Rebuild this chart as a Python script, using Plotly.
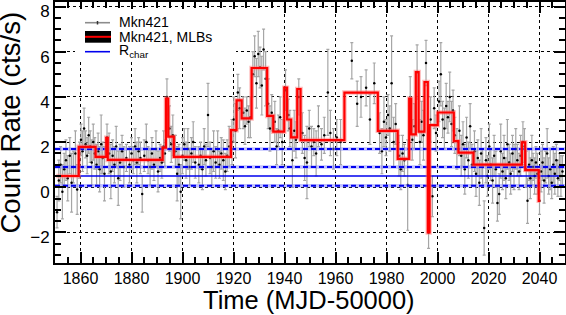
import plotly.graph_objects as go

# ---------------- data ----------------
time = [1850.8, 1851.5, 1852.2, 1852.9, 1853.6, 1854.3, 1855.0, 1855.8, 1856.5, 1857.2, 1858.0, 1858.7,
        1859.6, 1860.2, 1860.8, 1861.4, 1862.0, 1862.6, 1863.2, 1863.8, 1864.4, 1865.0, 1865.6,
        1866.3, 1866.9, 1867.5, 1868.1, 1868.7, 1869.4, 1870.4,
        1871.2, 1871.9, 1872.6, 1873.3, 1874.0, 1874.8, 1875.5, 1876.3, 1877.0, 1878.0, 1879.2, 1880.0,
        1880.7, 1881.4, 1882.1, 1882.8, 1883.5, 1884.2, 1885.0, 1885.8, 1886.5, 1887.3, 1888.0, 1888.8,
        1889.6, 1890.4, 1891.2, 1891.9, 1892.6, 1893.1, 1893.9, 1894.9, 1895.6, 1896.2,
        1897.2, 1897.9, 1898.6, 1899.3, 1900.0, 1900.7, 1901.4, 1902.1, 1902.8, 1903.5, 1904.2, 1905.0,
        1906.4, 1907.1, 1907.8, 1908.5, 1909.2, 1910.0, 1910.8, 1911.5, 1912.2, 1913.0, 1913.8, 1914.5,
        1915.2, 1916.0, 1916.8, 1917.5, 1918.3, 1919.4, 1920.1, 1920.8, 1921.7, 1922.4,
        1923.8, 1924.5, 1925.2, 1925.9, 1926.6, 1927.6, 1928.3, 1929.0, 1929.7, 1930.4, 1931.1, 1931.8,
        1932.6, 1933.6, 1934.3, 1935.0, 1936.2, 1936.9, 1937.6, 1938.3, 1939.1, 1940.4, 1941.5, 1942.1,
        1943.1, 1943.8, 1944.5, 1945.6, 1947.0, 1947.9, 1948.8, 1949.7, 1950.6, 1951.5, 1952.4, 1953.3,
        1954.5, 1955.6, 1957.0, 1958.0, 1959.2, 1960.5, 1962.0, 1966.4, 1968.5, 1970.0, 1972.0, 1973.5,
        1975.2, 1977.3, 1978.2, 1979.0, 1979.8, 1980.6, 1981.3, 1982.0, 1982.8, 1983.6, 1984.9, 1985.6,
        1986.3, 1987.0, 1988.3, 1989.3, 1990.1, 1990.9, 1992.0, 1993.1, 1993.8, 1994.5, 1995.5, 1996.5,
        1997.3, 1998.0, 1998.7, 1999.4, 2000.6, 2001.3, 2002.0, 2002.7, 2003.4, 2004.1, 2004.8, 2005.5,
        2006.1, 2006.8, 2007.6, 2008.6, 2009.3, 2010.0, 2010.7, 2011.4, 2012.1, 2012.8, 2013.5,
        2014.5, 2015.1, 2015.8, 2016.4, 2017.1, 2017.7, 2018.3, 2019.0, 2019.6, 2020.3, 2020.9, 2021.6,
        2022.2, 2022.9, 2023.5, 2024.2, 2024.8, 2025.5, 2026.1, 2026.8, 2027.4, 2028.1, 2028.7, 2029.4,
        2030.0, 2030.7, 2031.3, 2032.0, 2032.6, 2033.5, 2034.1, 2034.8, 2035.3, 2035.9, 2036.4, 2037.0,
        2037.5, 2038.1, 2038.6, 2039.2, 2040.0, 2040.6, 2041.2, 2041.8, 2042.4, 2043.0, 2043.6, 2044.2,
        2044.8, 2045.4, 2046.0, 2046.6, 2047.2, 2047.8, 2048.4, 2049.0]

rate = [-1.1, 0.3, 1.0, -0.2, 0.8, 1.2, 0.4, 1.4, 0.2, 0.9, 1.5, -0.1,
        1.2, 2.1, 1.6, 2.6, 1.9, 1.4, 2.3, 1.8, 1.1, 2.0, 1.5,
        1.0, 1.6, 0.8, 1.9, 1.3, 0.6, 2.2,
        1.5, 0.7, 1.4, 1.0, 1.8, 0.4, 1.1, 1.6, 0.9, 1.3, 1.0, 1.5,
        1.2, 1.8, 1.1, 1.6, 1.3, -0.3, 1.4, 2.0, 1.2, 0.9, 1.5, 1.0,
        1.7, 0.7, 1.3, 1.1, 1.8, 1.5, 4.0, 2.6, 1.9, 2.3,
        1.6, 0.6, 1.0, -0.2, 1.4, 1.9, 1.2, 1.7, 0.9, 1.5, 2.0, 1.1,
        1.0, 1.4, 0.8, 1.8, 1.2, 3.2, 1.3, 0.9, 1.6, 1.1, 1.7, 1.0,
        1.5, 1.2, 0.7, 1.4, 1.8, 2.0, 3.0, 2.5, 4.2, 3.5,
        3.3, 2.7, 3.4, 2.9, 3.1, 5.0, 5.8, 4.6, 5.9, 5.3, 4.5, 6.1,
        4.8, 3.7, 2.6, 3.3, 2.9, 1.8, 2.5, 3.1, 2.0, 4.3, 3.2, 2.6,
        1.2, 2.5, 2.1, 4.0, 2.4, 1.3, 1.1, 2.6, 1.8, 2.0, 1.5, 2.7,
        1.9, 2.3, 4.2, 2.4, 1.7, 2.2, 2.0, 5.6, 3.7, 4.0, 4.4, 3.0,
        4.6, 2.4, 1.6, 2.9, 2.2, 3.2, 2.6, 4.6, 2.0, 2.8, 1.4, 0.8,
        1.5, 1.2, 0.1, 3.9, 2.1, 2.7, 5.1, 2.0, 2.9, 2.3, 5.5, -2.0,
        3.0, -0.4, 3.5, 2.4, 3.8, 5.0, 3.0, 2.6, 3.6, 3.1, 4.0, 2.8,
        3.4, 2.3, 1.7, 2.5, 1.4, 1.9, 0.8, 2.2, 1.2, 2.7, 1.0,
        1.6, 0.6, 1.3, 0.2, 1.5, 0.9, -1.8, 1.2, 0.5, 1.8, 1.0, 0.3,
        1.4, 0.8, -0.7, -0.3, 1.6, 0.7, 1.3, 0.4, 1.9, 1.1, 0.6, 1.5,
        0.9, 1.7, 1.2, 0.7, 1.4, 2.0, 1.8, 0.8, -0.6, 1.0, 0.4, 1.2,
        0.9, 0.5, 1.1, 0.6, -0.6, 0.7, 1.1, 0.3, 0.9, 1.5, 0.5, 0.8,
        0.2, 1.0, 0.6, 1.2, 0.4, 0.9, 0.5, 0.7]

rate_err = [0.7, 0.9, 0.8, 1.2, 0.7, 0.9, 1.0, 0.8, 1.3, 0.7, 1.0, 1.1,
            0.8, 0.7, 0.9, 0.9, 0.6, 0.8, 0.8, 0.7, 1.0, 0.8, 0.7,
            0.9, 0.8, 1.0, 1.3, 0.7, 1.2, 0.6,
            0.9, 1.2, 0.7, 0.8, 0.9, 1.2, 0.8, 0.7, 0.9, 0.6, 0.8, 0.7,
            0.6, 0.8, 0.9, 0.6, 0.7, 0.8, 0.7, 0.8, 0.6, 0.8, 0.7, 0.7,
            0.8, 0.9, 0.6, 0.7, 0.7, 0.6, 0.8, 1.0, 0.8, 0.9,
            0.7, 1.2, 0.9, 1.2, 0.8, 0.7, 0.8, 0.9, 0.8, 0.7, 0.9, 0.7,
            0.8, 0.6, 0.9, 0.8, 0.7, 1.4, 0.7, 0.8, 0.9, 0.7, 0.8, 0.6,
            0.7, 0.9, 0.8, 0.7, 0.9, 1.0, 1.0, 1.2, 0.8, 0.9,
            0.7, 0.8, 0.6, 0.7, 0.9, 1.0, 0.9, 1.1, 1.0, 0.9, 1.3, 0.9,
            1.2, 1.1, 1.0, 0.8, 0.9, 0.8, 0.7, 0.9, 1.0, 0.9, 0.7, 0.8,
            1.2, 0.9, 0.8, 0.8, 0.9, 1.0, 1.6, 0.8, 0.9, 0.6, 1.0, 0.9,
            0.7, 0.8, 1.9, 1.0, 0.9, 0.8, 1.0, 0.8, 1.0, 0.9, 0.8, 1.1,
            0.9, 0.9, 1.0, 1.1, 0.8, 0.9, 1.0, 2.1, 1.1, 0.9, 0.9, 0.9,
            0.8, 0.7, 2.0, 1.0, 0.9, 1.0, 1.2, 1.0, 0.9, 1.1, 1.0, 0.7,
            1.0, 0.9, 0.9, 0.8, 0.9, 1.4, 0.8, 0.9, 1.0, 0.7, 1.1, 1.0,
            0.9, 0.8, 0.9, 1.1, 0.9, 1.0, 1.1, 0.9, 0.8, 1.0, 0.9,
            0.9, 1.0, 0.8, 1.0, 1.1, 0.8, 1.2, 1.0, 0.9, 1.0, 0.7, 1.0,
            0.9, 0.8, 0.8, 0.9, 1.2, 0.8, 1.0, 0.9, 1.1, 0.8, 0.9, 0.8,
            1.0, 0.9, 0.7, 0.8, 0.9, 0.9, 0.8, 0.8, 1.0, 0.7, 0.9, 1.1,
            0.6, 0.8, 0.7, 0.9, 0.6, 0.9, 0.8, 1.0, 0.7, 1.1, 0.8, 0.9,
            0.7, 0.8, 0.9, 0.7, 0.8, 0.6, 0.9, 0.7]

# Bayesian-block (MLB) edges and block rates
block_edges = [1850.5, 1859.3, 1865.9, 1870.1, 1870.7, 1892.2, 1893.5, 1894.4, 1896.6, 1919.0,
               1921.2, 1923.2, 1927.1, 1933.2, 1935.6, 1939.9, 1941.0, 1942.6, 1945.0, 1946.3,
               1963.5, 1976.6, 1984.4, 1988.9, 1989.7, 1991.5, 1992.6, 1994.9, 1996.2, 1996.9,
               2000.1, 2006.4, 2008.2, 2014.1, 2033.1, 2034.4, 2039.7, 2040.3]
block_rates = [0.50, 1.79, 1.35, 2.19, 1.21, 1.76, 3.93, 2.24, 1.35, 2.53,
               3.85, 3.05, 5.28, 3.16, 2.46, 4.41, 3.00, 2.21, 4.35, 2.09,
               4.19, 2.50, 1.26, 3.93, 2.34, 5.10, 2.46, 4.66, -2.00, 2.75,
               3.31, 2.04, 1.53, 1.00, 1.99, 0.76, -0.60]

# characteristic rate levels
r_char = 0.50
r_char_bands = [1.69, 0.90, 0.07]

x_range = [1850, 2050]
y_range = [-3.35, 8.2]

FONT = "Liberation Sans, Arial, Helvetica, sans-serif"

fig = go.Figure()

# data points with error bars
fig.add_trace(go.Scatter(
    x=time, y=rate, mode="markers",
    marker=dict(color="black", size=2.5),
    error_y=dict(type="data", array=rate_err, color="#a6a6a6", thickness=1.2, width=1.5),
    showlegend=False, hoverinfo="x+y"))

# R_char dashed bands (light halo + dashed blue)
for lvl in r_char_bands:
    fig.add_trace(go.Scatter(x=x_range, y=[lvl, lvl], mode="lines",
                             line=dict(color="rgba(120,120,255,0.45)", width=3.5),
                             showlegend=False, hoverinfo="skip"))
    fig.add_trace(go.Scatter(x=x_range, y=[lvl, lvl], mode="lines",
                             line=dict(color="#0000ee", width=2, dash="5px,3px"),
                             showlegend=False, hoverinfo="skip"))
fig.add_trace(go.Scatter(x=x_range, y=[r_char, r_char], mode="lines",
                         line=dict(color="#0000ee", width=1.6),
                         showlegend=False, hoverinfo="skip"))

# MLB step function
fig.add_trace(go.Scatter(x=block_edges, y=block_rates + [block_rates[-1]], mode="lines",
                         line=dict(color="rgba(255,120,120,0.5)", width=4.5, shape="hv"),
                         showlegend=False, hoverinfo="skip"))
fig.add_trace(go.Scatter(x=block_edges, y=block_rates + [block_rates[-1]], mode="lines",
                         line=dict(color="#ff0000", width=2.2, shape="hv"),
                         showlegend=False, hoverinfo="skip"))

# ---------------- legend (drawn manually) ----------------
def px2x(px):
    return x_range[0] + (px - 55) / 510 * (x_range[1] - x_range[0])

def py2y(py):
    return y_range[0] + (263 - py) / 261 * (y_range[1] - y_range[0])

shapes = []
# white legend box hiding grid
shapes.append(dict(type="rect", xref="x", yref="y", x0=px2x(75), x1=px2x(236),
                   y0=py2y(60), y1=py2y(9), fillcolor="white", line=dict(width=0), layer="above"))
# Mkn421 entry
shapes.append(dict(type="line", xref="x", yref="y", x0=px2x(85), x1=px2x(110),
                   y0=py2y(22.7), y1=py2y(22.7), line=dict(color="#8c8c8c", width=1.6), layer="above"))
shapes.append(dict(type="line", xref="x", yref="y", x0=px2x(97.5), x1=px2x(97.5),
                   y0=py2y(21), y1=py2y(24.5), line=dict(color="#333333", width=1.5), layer="above"))
# MLB entry
shapes.append(dict(type="rect", xref="x", yref="y", x0=px2x(85), x1=px2x(111),
                   y0=py2y(42.7), y1=py2y(31), fillcolor="black", line=dict(width=0), layer="above"))
shapes.append(dict(type="line", xref="x", yref="y", x0=px2x(85), x1=px2x(111),
                   y0=py2y(36.8), y1=py2y(36.8), line=dict(color="#ff0000", width=2), layer="above"))
# R_char entry
shapes.append(dict(type="line", xref="x", yref="y", x0=px2x(85), x1=px2x(110),
                   y0=py2y(51.7), y1=py2y(51.7), line=dict(color="#0000ee", width=1.6), layer="above"))

annotations = []
for txt, py in [("Mkn421", 22.2), ("Mkn421, MLBs", 36.5), ("R<sub>char</sub>", 51.2)]:
    annotations.append(dict(text=txt, xref="x", yref="y", x=px2x(116.5), y=py2y(py),
                            xanchor="left", yanchor="middle", showarrow=False,
                            font=dict(family=FONT, size=14, color="black")))

# axis titles
annotations.append(dict(text="Count Rate (cts/s)", xref="paper", yref="paper",
                        x=(9.5 - 55) / 510, y=(263 - 123) / 261, textangle=-90,
                        xanchor="center", yanchor="middle", showarrow=False,
                        font=dict(family=FONT, size=27.5, color="black")))
annotations.append(dict(text="Time (MJD-50000)", xref="paper", yref="paper",
                        x=(308.5 - 55) / 510, y=(263 - 299.5) / 261,
                        xanchor="center", yanchor="middle", showarrow=False,
                        font=dict(family=FONT, size=25.5, color="black")))

axis_common = dict(showline=True, linecolor="black", linewidth=2, mirror="ticks",
                   ticks="inside", tickcolor="black", tickwidth=2, ticklen=11,
                   showgrid=True, gridcolor="black", gridwidth=1, griddash="dot",
                   zeroline=False, automargin=False, ticklabeloverflow="allow",
                   tickfont=dict(family=FONT, size=16, color="black"))

fig.update_layout(
    width=566, height=315,
    margin=dict(l=55, r=1, t=2, b=52, autoexpand=False),
    paper_bgcolor="white", plot_bgcolor="white",
    showlegend=False,
    xaxis=dict(range=x_range, dtick=20, tick0=1860,
               minor=dict(dtick=5, ticklen=6, tickwidth=1.5, tickcolor="black", ticks="inside", showgrid=False),
               **axis_common),
    yaxis=dict(range=y_range, dtick=2, tick0=0,
               minor=dict(dtick=0.5, ticklen=6, tickwidth=1.5, tickcolor="black", ticks="inside", showgrid=False),
               **axis_common),
    shapes=shapes, annotations=annotations,
)
fig.update_yaxes(tickfont=dict(size=17), ticklabelshift=5)

fig.write_html("out.html", config={"displayModeBar": False},
               post_script="document.body.style.margin='0';document.body.style.overflow='hidden';")
